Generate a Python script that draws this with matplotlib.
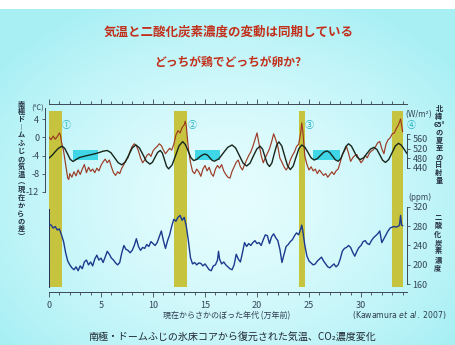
import numpy as np
import matplotlib
matplotlib.use('Agg')
import matplotlib.pyplot as plt
from matplotlib.ticker import MultipleLocator, FixedLocator
from matplotlib.patches import Rectangle

plt.rcParams['font.family'] = ['Noto Sans CJK JP', 'DejaVu Sans']

# ---------------- data ----------------
temp_age = [0.0, 0.2, 0.4, 0.6, 0.8, 1.0, 1.1, 1.2, 1.3, 1.4, 1.5, 1.6, 1.7, 1.8, 1.9,
            2.0, 2.2, 2.4, 2.6, 2.8, 3.0, 3.2, 3.4, 3.6, 3.8, 4.0, 4.2, 4.4, 4.6, 4.8,
            5.0, 5.2, 5.4, 5.6, 5.8, 6.0, 6.2, 6.4, 6.6, 6.8, 7.0, 7.2, 7.4, 7.6, 7.8,
            8.0, 8.2, 8.4, 8.6, 8.8, 9.0, 9.2, 9.4, 9.6, 9.8, 10.0, 10.2, 10.4, 10.6, 10.8,
            11.0, 11.2, 11.4, 11.6, 11.8, 12.0, 12.2, 12.4, 12.6, 12.8, 13.0, 13.1, 13.2, 13.4, 13.6,
            13.8, 14.0, 14.2, 14.4, 14.6, 14.8, 15.0, 15.2, 15.4, 15.6, 15.8, 16.0, 16.2, 16.4, 16.6,
            16.8, 17.0, 17.2, 17.4, 17.6, 17.8, 18.0, 18.2, 18.4, 18.6, 18.8, 19.0, 19.2, 19.4, 19.6,
            19.8, 20.0, 20.2, 20.4, 20.6, 20.8, 21.0, 21.2, 21.4, 21.6, 21.8, 22.0, 22.2, 22.4, 22.6,
            22.8, 23.0, 23.2, 23.4, 23.6, 23.8, 24.0, 24.2, 24.3, 24.4, 24.6, 24.8, 25.0, 25.2, 25.4,
            25.6, 25.8, 26.0, 26.2, 26.4, 26.6, 26.8, 27.0, 27.2, 27.4, 27.6, 27.8, 28.0, 28.2, 28.4,
            28.6, 28.8, 29.0, 29.2, 29.4, 29.6, 29.8, 30.0, 30.2, 30.4, 30.6, 30.8, 31.0, 31.2, 31.4,
            31.6, 31.8, 32.0, 32.2, 32.4, 32.6, 32.8, 33.0, 33.2, 33.4, 33.6, 33.8, 34.0]
temp_val = [0.0, -0.5, 0.3, -0.4, 0.2, 1.0, 0.5, -1.0, -2.0, -3.0, -4.5, -6.0, -7.5, -9.0, -9.3,
            -8.0, -8.8, -7.6, -8.5, -7.2, -8.2, -7.0, -6.0, -7.8, -6.6, -7.5, -7.0, -7.8, -6.8, -7.4,
            -6.2, -5.4, -4.8, -5.6, -5.0, -6.5, -7.8, -8.4, -7.6, -8.0, -6.8, -6.0, -5.0, -4.5, -3.0,
            -2.0, -1.4, -1.8, -3.0, -4.5, -5.6, -5.0, -4.0, -3.6, -4.2, -3.0, -2.4, -2.0, -1.4, -1.8,
            -2.8, -3.6, -3.0, -2.4, -2.8, -1.5, 0.5, 1.5, 1.0, 2.2, 2.8, 3.6, 2.5, -2.5, -5.5,
            -7.5, -8.0, -7.0, -7.6, -8.6, -7.0, -6.2, -7.4, -6.6, -8.0, -8.6, -7.0, -6.2, -6.8, -6.0,
            -7.4, -8.2, -8.8, -9.0, -7.5, -6.5, -5.5, -5.0, -6.5, -7.2, -6.0, -5.0, -4.0, -3.2, -2.0,
            -0.5, 1.0, -1.5, -4.0, -5.6, -4.5, -3.5, -2.5, -1.0, 0.8, -0.5, -2.0, -4.6, -5.5, -6.5,
            -7.2, -6.5, -5.0, -4.0, -3.2, -2.0, -1.5, 1.0, 3.2, 1.5, -4.2, -6.0, -7.2, -6.5, -7.4,
            -7.0, -8.0, -7.2, -7.8, -8.4, -8.0, -8.8, -8.2, -7.6, -8.2, -7.4, -7.0, -5.5, -3.8, -3.0,
            -2.0, -3.5, -5.3, -4.5, -4.0, -3.8, -4.8, -5.6, -5.0, -4.0, -4.5, -3.5, -3.0, -2.7, -2.0,
            -1.2, -0.9, -2.5, -3.6, -1.5, -0.5, -0.1, 0.8, 1.0, 2.0, 2.8, 4.1, 1.3]

ins_age = [0.0, 0.3, 0.6, 0.9, 1.25, 1.51, 1.78, 2.04, 2.3, 2.6, 2.9, 3.3, 3.8, 4.3, 4.8, 5.2, 5.6,
           5.95, 6.3, 6.65, 7.0, 7.34, 7.68, 8.01, 8.35, 8.69, 9.03, 9.36, 9.7, 9.95, 10.2, 10.45, 10.7,
           10.9, 11.1, 11.3, 11.5, 11.84, 12.18, 12.51, 12.85, 13.11, 13.38, 13.64, 13.9, 14.18, 14.45,
           14.73, 15.0, 15.23, 15.45, 15.68, 15.9, 16.33, 16.75, 17.18, 17.6, 17.95, 18.3, 18.65, 19.0,
           19.33, 19.65, 19.98, 20.3, 20.53, 20.75, 20.98, 21.2, 21.43, 21.65, 21.88, 22.1, 22.38, 22.65,
           22.93, 23.2, 23.48, 23.75, 24.03, 24.3, 24.6, 24.9, 25.2, 25.5, 25.8, 26.1, 26.4, 26.7, 26.98,
           27.25, 27.53, 27.8, 28.05, 28.3, 28.55, 28.8, 29.08, 29.35, 29.63, 29.9, 30.24, 30.58, 30.91,
           31.25, 31.53, 31.8, 32.08, 32.35, 32.66, 32.98, 33.29, 33.6, 33.85, 34.1, 34.4]
ins_val = [480, 492, 507, 521, 530, 521, 498, 475, 466, 474, 482, 487, 492, 497, 503, 509, 512,
           503, 482, 461, 452, 464, 494, 523, 535, 523, 495, 467, 455, 463, 484, 504, 512,
           501, 474, 446, 435, 452, 492, 532, 549, 537, 510, 482, 470, 474, 484,
           493, 497, 493, 482, 471, 467, 477, 501, 525, 535, 522, 491, 460, 447,
           459, 489, 518, 530, 518, 488, 457, 445, 460, 497, 533, 548, 531, 490,
           449, 432, 447, 484, 520, 535, 526, 504, 481, 472, 478, 491, 504, 510, 504,
           489, 473, 467, 478, 504, 529, 540, 530, 507, 484, 474, 481, 500, 518,
           525, 516, 494, 471, 462, 474, 502, 530, 542, 535, 520, 500]

co2_age = [0.0, 0.2, 0.4, 0.6, 0.8, 1.0, 1.1, 1.2, 1.4, 1.6, 1.8, 2.0, 2.2, 2.4, 2.6, 2.8, 3.0,
           3.2, 3.4, 3.6, 3.8, 4.0, 4.2, 4.4, 4.6, 4.8, 5.0, 5.2, 5.4, 5.6, 5.8, 6.0, 6.2, 6.4,
           6.6, 6.8, 7.0, 7.2, 7.4, 7.6, 7.8, 8.0, 8.2, 8.4, 8.6, 8.8, 9.0, 9.2, 9.4, 9.6, 9.8,
           10.0, 10.2, 10.4, 10.6, 10.8, 11.0, 11.2, 11.4, 11.6, 11.8, 12.0, 12.2, 12.4, 12.6, 12.8,
           13.0, 13.2, 13.4, 13.6, 13.8, 14.0, 14.2, 14.4, 14.6, 14.8, 15.0, 15.2, 15.4, 15.6, 15.8,
           16.0, 16.2, 16.3, 16.4, 16.6, 16.8, 17.0, 17.2, 17.4, 17.6, 17.8, 18.0, 18.2, 18.4, 18.6,
           18.8, 19.0, 19.2, 19.4, 19.6, 19.8, 20.0, 20.2, 20.4, 20.6, 20.8, 21.0, 21.2, 21.4, 21.6,
           21.8, 22.0, 22.2, 22.4, 22.6, 22.8, 23.0, 23.2, 23.4, 23.6, 23.8, 24.0, 24.2, 24.3, 24.4,
           24.6, 24.8, 25.0, 25.2, 25.4, 25.6, 25.8, 26.0, 26.2, 26.4, 26.6, 26.8, 27.0, 27.2, 27.4,
           27.6, 27.8, 28.0, 28.2, 28.4, 28.6, 28.8, 29.0, 29.2, 29.4, 29.6, 29.8, 30.0, 30.2, 30.4,
           30.6, 30.8, 31.0, 31.2, 31.4, 31.6, 31.8, 32.0, 32.2, 32.4, 32.6, 32.8, 33.0, 33.2, 33.4,
           33.6, 33.7, 33.8, 33.9, 34.0]
co2_val = [285, 282, 276, 279, 272, 274, 268, 262, 248, 225, 208, 200, 194, 190, 196, 188, 198,
           192, 206, 210, 200, 206, 198, 212, 220, 210, 214, 205, 216, 228, 222, 214, 210, 204,
           200, 205, 225, 240, 232, 230, 225, 230, 240, 254, 238, 230, 236, 234, 242, 238, 248,
           244, 240, 246, 258, 270, 250, 234, 250, 262, 280, 294, 290, 298, 302, 292,
           298, 280, 250, 215, 202, 205, 200, 204, 203, 198, 202, 196, 190, 188, 198,
           200, 210, 228, 212, 202, 206, 200, 196, 192, 190, 200, 222, 212, 206, 225,
           246, 238, 244, 240, 246, 250, 244, 246, 240, 252, 262, 260, 244, 258, 264,
           256, 250, 232, 205, 222, 238, 242, 248, 252, 260, 266, 262, 274, 282, 270,
           240, 218, 208, 204, 200, 202, 208, 212, 216, 208, 202, 196, 194, 198, 202,
           196, 200, 212, 228, 234, 236, 240, 236, 226, 218, 228, 236, 240, 248, 250,
           244, 242, 250, 256, 260, 264, 270, 246, 254, 262, 270, 276, 278, 279, 278,
           280, 282, 302, 282, 281]

interglacial_start = [0.0, 12.0, 24.05, 33.0]
interglacial_end = [1.25, 13.3, 24.6, 34.05]
interglacial_labels = ['①', '②', '③', '④']
box_start = [2.3, 14.0, 25.4]
box_end = [4.7, 16.4, 28.0]
box_low = -4.9
box_high = -2.8

x_ticks = [0, 5, 10, 15, 20, 25, 30]
temp_ticks = [4, 0, -4, -8, -12]
ins_ticks = [440, 480, 520, 560]
co2_ticks = [160, 200, 240, 280, 320]

# ---------------- figure ----------------
W, H = 455, 345
fig = plt.figure(figsize=(W / 100, H / 100), dpi=100)

def fx(px):
    return px / W

def fy(py):
    return 1 - py / H

# slide background (radial light-cyan gradient)
bg = fig.add_axes([0, 0, 1, 1], zorder=-10)
yy, xx = np.mgrid[0:H, 0:W]
r = np.sqrt(((xx - 0.5 * W) / (0.62 * W)) ** 2 + ((yy - 0.58 * H) / (0.64 * H)) ** 2)
r = np.clip(r, 0, 1) ** 1.5
inner = np.array([0.90, 0.99, 0.995])
outer = np.array([0.66, 0.94, 0.96])
img = inner[None, None, :] * (1 - r[..., None]) + outer[None, None, :] * r[..., None]
img[:9, :, :] = 1.0
bg.imshow(img, extent=[0, W, H, 0], aspect='auto', interpolation='bilinear')
bg.set_xlim(0, W)
bg.set_ylim(H, 0)
bg.axis('off')

axc = '#3b4853'
tc = '#34465a'

ax = fig.add_axes([fx(49), fy(292), (407 - 49) / W, (292 - 104) / H])
ax.set_facecolor('none')
ax.set_xlim(0, 34.42)
ax.set_ylim(-34.2, 7.4)

for s0, s1 in zip(interglacial_start, interglacial_end):
    ax.axvspan(s0, s1, ymin=0.028, ymax=0.964, color='#c6c43e', lw=0, zorder=1)
for b0, b1 in zip(box_start, box_end):
    ax.add_patch(Rectangle((b0, box_low), b1 - b0, box_high - box_low,
                           color='#3fd7e8', lw=0, zorder=1.5))
ax.plot(temp_age, temp_val, color='#9c3a24', lw=0.85, zorder=3)

ax.spines['right'].set_visible(False)
for s in ['top', 'bottom', 'left']:
    ax.spines[s].set_color(axc)
    ax.spines[s].set_linewidth(0.7)
ax.spines['left'].set_bounds(-12, 6.5)
ax.spines['left'].set_position(('outward', 3))
ax.set_xticks(x_ticks)
ax.xaxis.set_minor_locator(MultipleLocator(1))
ax.tick_params(axis='x', which='both', top=True, bottom=True, labeltop=False,
               direction='out', colors=axc, width=0.6, labelcolor=tc, labelsize=6.5, pad=3)
ax.tick_params(axis='x', which='major', length=3.5)
ax.tick_params(axis='x', which='minor', length=2.2)
ax.set_yticks(temp_ticks)
ax.set_yticklabels(['4', '0', '-4', '-8', '-12'])
ax.tick_params(axis='y', which='both', direction='out', length=2.5, width=0.6, colors=axc,
               labelcolor=tc, labelsize=6.5, pad=1.5)

# insolation axis
ax_ins = ax.twinx()
ax_ins.set_facecolor('none')
ax_ins.set_ylim(-79.7, 706.3)
ax_ins.plot(ins_age, ins_val, color='#17261c', lw=1.0, zorder=3)
for s in ['top', 'bottom', 'left']:
    ax_ins.spines[s].set_visible(False)
ax_ins.spines['right'].set_bounds(440, 580)
ax_ins.spines['right'].set_color(axc)
ax_ins.spines['right'].set_linewidth(0.7)
ax_ins.set_yticks(ins_ticks)
ax_ins.yaxis.set_minor_locator(FixedLocator([580]))
ax_ins.tick_params(axis='y', which='both', direction='out', length=2.5, width=0.6, colors=axc,
                   labelcolor=tc, labelsize=6.5, pad=1.5)

# CO2 axis
ax_co2 = ax.twinx()
ax_co2.set_facecolor('none')
ax_co2.set_ylim(144.1, 531.8)
ax_co2.plot(co2_age, co2_val, color='#1c3a8e', lw=1.0, zorder=3)
for s in ['top', 'bottom']:
    ax_co2.spines[s].set_visible(False)
ax_co2.spines['right'].set_bounds(160, 320)
ax_co2.spines['left'].set_bounds(155, 315)
for s in ['left', 'right']:
    ax_co2.spines[s].set_color(axc)
    ax_co2.spines[s].set_linewidth(0.7)
ax_co2.spines['left'].set_color('#22305a')
ax_co2.set_yticks(co2_ticks)
ax_co2.tick_params(axis='y', which='both', direction='out', length=2.5, width=0.6, colors=axc,
                   labelcolor=tc, labelsize=6.5, pad=1.5, left=False, labelleft=False)

# interglacial numbers
num_x = [66, 191.7, 309, 411]
for lbl, px in zip(interglacial_labels, num_x):
    fig.text(fx(px), fy(125.5), lbl, ha='center', va='center', fontsize=6.5, color='#22b0c2')

# units
fig.text(fx(38), fy(109), '(℃)', ha='center', va='center', fontsize=5.5, color=tc)
fig.text(fx(419), fy(114), '(W/m²)', ha='center', va='center', fontsize=5.5, color=tc,
         family=['DejaVu Sans'])
fig.text(fx(420), fy(197), '(ppm)', ha='center', va='center', fontsize=5.5, color=tc,
         family=['DejaVu Sans'])

# titles
fig.text(fx(229), fy(32), '気温と二酸化炭素濃度の変動は同期している', ha='center', va='center',
         fontsize=9, color='#c2301b', weight='bold')
fig.text(fx(228), fy(62), 'どっちが鶏でどっちが卵か?', ha='center', va='center',
         fontsize=8.5, color='#c2301b', weight='bold')
fig.text(fx(232), fy(338), '南極・ドームふじの氷床コアから復元された気温、CO₂濃度変化',
         ha='center', va='center', fontsize=7.2, color='#1e2630')

# axis label & citation
fig.text(fx(227), fy(316), '現在からさかのぼった年代 (万年前)', ha='center', va='center',
         fontsize=5.8, color='#2e3d4e')
fig.text(fx(399), fy(315), r'(Kawamura $\it{et\ al.}$ 2007)', ha='center', va='center',
         fontsize=5.6, color='#2e3d4e', family=['DejaVu Sans'])

# vertical labels
def vtext(chars, x, y0, step, size, color='#243040'):
    for i, ch in enumerate(chars):
        fig.text(fx(x), fy(y0 + i * step), ch, ha='center', va='center', fontsize=size,
                 color=color, weight='bold')

vtext(['南', '極', 'ド', '︱', 'ム', 'ふ', 'じ', 'の', '気', '温', '︵', '現', '在', 'か', 'ら',
       'の', '差', '︶'], 21, 104, 7.8, 5.2)
vtext(['北', '緯', '65°', 'の', '夏', '至', 'の', '日', '射', '量'], 439, 108, 8.1, 5.2)
vtext(['二', '酸', '化', '炭', '素', '濃', '度'], 438, 217, 8.5, 5.2)

fig.savefig('out.png', dpi=100)
